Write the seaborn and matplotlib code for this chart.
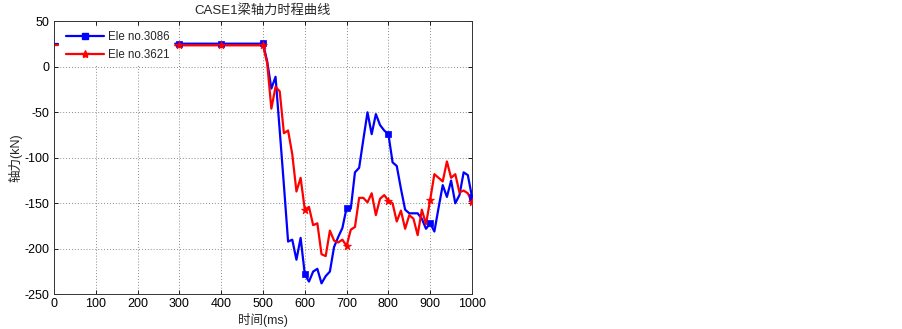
import numpy as np
import pandas as pd
import matplotlib
matplotlib.use("Agg")
import matplotlib.pyplot as plt
from matplotlib.lines import Line2D
import seaborn as sns

# ---------------- data ----------------
time_ms = [0, 10] + list(range(290, 1001, 10))
segment = [0, 0] + [1] * len(range(290, 1001, 10))

ele_3086 = [25.4, 25.4,
            25.4, 25.4, 25.4, 25.4, 25.4, 25.4, 25.4, 25.4, 25.4, 25.4, 25.4,
            25.4, 25.4, 25.4, 25.4, 25.4, 25.4, 25.4, 25.4, 25.4, 25.4, 25.8,
            6, -24, -11, -70, -130, -192, -190, -212, -188, -228,
            -236, -225, -222, -238, -230, -225, -198, -187, -177, -155,
            -156, -116, -111, -80, -50, -74, -52, -64, -70, -74,
            -105, -109, -134, -157, -161, -161, -161, -167, -178, -172,
            -181, -155, -130, -143, -125, -150, -141, -116, -119, -143]

ele_3621 = [23.6, 23.6,
            23.6, 23.6, 23.6, 23.6, 23.6, 23.6, 23.6, 23.6, 23.6, 23.6, 23.6,
            23.6, 23.6, 23.6, 23.6, 23.6, 23.6, 23.6, 23.6, 23.6, 23.6, 23.6,
            4, -46, -22, -27, -73, -70, -96, -137, -122, -157,
            -154, -174, -172, -206, -208, -180, -191, -193, -190, -197,
            -179, -176, -144, -144, -149, -139, -163, -145, -141, -147,
            -150, -170, -158, -178, -163, -167, -185, -157, -173, -146,
            -118, -122, -126, -104, -122, -118, -138, -136, -139, -149]

series_names = ["Ele no.3086", "Ele no.3621"]
series_colors = ["#0000ff", "#ff0000"]
x_ticks = [0, 100, 200, 300, 400, 500, 600, 700, 800, 900, 1000]
y_ticks = [-250, -200, -150, -100, -50, 0, 50]

title_text = "CASE1梁轴力时程曲线"
x_label = "时间(ms)"
y_label = "轴力(kN)"

# ---------------- frame ----------------
df = pd.concat([
    pd.DataFrame({"t": time_ms, "v": ele_3086, "seg": segment, "ele": series_names[0]}),
    pd.DataFrame({"t": time_ms, "v": ele_3621, "seg": segment, "ele": series_names[1]}),
], ignore_index=True)
df["uid"] = df["ele"] + "_" + df["seg"].astype(str)
marks = df[(df["t"] % 100 == 0) & (df["t"] >= 300)]

sns.set_theme(style="white")
plt.rcParams["font.family"] = ["Liberation Sans", "Noto Sans CJK SC", "DejaVu Sans"]
plt.rcParams["axes.unicode_minus"] = False

fig = plt.figure(figsize=(9.03, 3.29), dpi=100)
ax = fig.add_axes([54 / 903, 1 - 294.3 / 329, (472 - 54) / 903, (294.3 - 21.3) / 329])

palette = dict(zip(series_names, series_colors))
sns.lineplot(data=df, x="t", y="v", hue="ele", units="uid", estimator=None,
             palette=palette, linewidth=1.6, ax=ax, legend=False, sort=False)

m3086 = marks[marks["ele"] == series_names[0]]
m3621 = marks[marks["ele"] == series_names[1]]
sns.scatterplot(data=m3086, x="t", y="v", color=series_colors[0], marker="s",
                s=22, edgecolor=series_colors[0], linewidth=0.5, ax=ax, legend=False, zorder=3)
sns.scatterplot(data=m3621, x="t", y="v", color=series_colors[1], marker="*",
                s=34, edgecolor=series_colors[1], linewidth=0.6, ax=ax, legend=False, zorder=3)

ax.set_xlim(0, 1000)
ax.set_ylim(-250, 50)
ax.set_xticks(x_ticks)
ax.set_yticks(y_ticks)
ax.tick_params(direction="in", length=3, width=0.6, labelsize=9, colors="black",
               top=True, right=True, bottom=True, left=True, pad=3)
ax.grid(True, linestyle=(0, (1, 2)), color="#8a8a8a", linewidth=0.7)
for sp in ax.spines.values():
    sp.set_visible(True)
    sp.set_color("#333333")
    sp.set_linewidth(0.7)

ax.set_title(title_text, fontsize=9.5, pad=5)
ax.set_xlabel(x_label, fontsize=9, labelpad=2)
ax.set_ylabel(y_label, fontsize=9, labelpad=2)

handles = [
    Line2D([0], [0], color=series_colors[0], lw=1.6, marker="s", markersize=4.5),
    Line2D([0], [0], color=series_colors[1], lw=1.6, marker="*", markersize=6),
]
leg = ax.legend(handles, series_names, loc="upper left", fontsize=8.3,
                frameon=True, facecolor="white", edgecolor="white", framealpha=1,
                handlelength=3.3, handletextpad=0.35, borderaxespad=0.2,
                borderpad=0.3, labelspacing=0.55,
                bbox_to_anchor=(0.015, 0.985))
leg.get_frame().set_linewidth(0)
leg.set_zorder(1)

fig.savefig("out.png", dpi=100, facecolor="white")
